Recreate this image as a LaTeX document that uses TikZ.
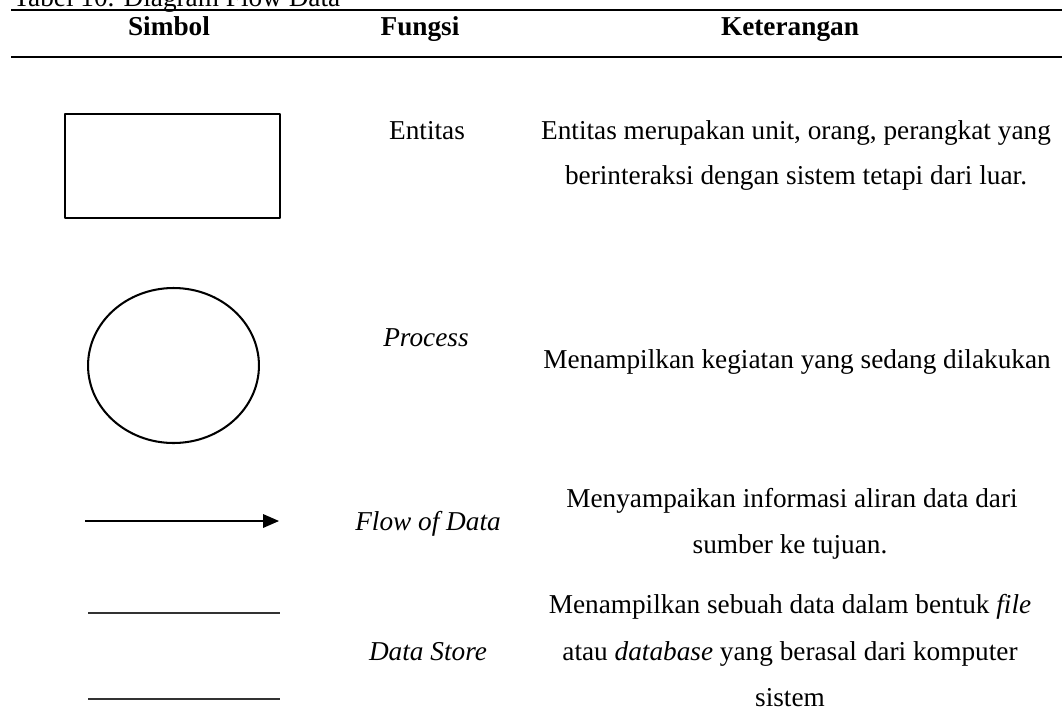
\documentclass[tikz,border=0pt]{standalone}
\usepackage{fontspec}
\setmainfont{Liberation Serif}
\usetikzlibrary{arrows.meta,shapes.geometric}
\tikzset{
	cell/.style={anchor=base, inner sep=0pt, font=\fontsize{12pt}{14pt}\selectfont},
	headcell/.style={cell, font=\fontsize{12pt}{14pt}\selectfont\bfseries},
	tablerule/.style={line width=0.9pt},
	symbolline/.style={line width=0.9pt},
	storeline/.style={line width=0.65pt, black!80}
}
\begin{document}
\begin{tikzpicture}[x=0.44pt, y=-0.44pt, >={Triangle[length=7pt,width=6pt]}, line join = round]
	\useasboundingbox (0,0) rectangle (1062,727);
	\coordinate (TL) at (11,10);
	\coordinate (TR) at (1062,10);
	\coordinate (ML) at (11,57);
	\coordinate (MR) at (1062,57);
	\coordinate (flowS) at (85,521);
	\coordinate (flowE) at (279,521);
	\coordinate (storeA) at (88,613);
	\coordinate (storeB) at (280,613);
	\coordinate (storeC) at (88,699);
	\coordinate (storeD) at (280,699);
	% title and header
	\node[cell, anchor=base west] (title) at (13,6) {Tabel 10. Diagram Flow Data};
	\node[headcell] (hSimbol) at (169,35) {Simbol};
	\node[headcell] (hFungsi) at (420,35) {Fungsi};
	\node[headcell] (hKet) at (790,35) {Keterangan};
	\draw[tablerule] (TL) -- (TR);
	\draw[tablerule] (ML) -- (MR);
	% symbols
	\node[draw, symbolline, inner sep=0pt, minimum width=94.6pt, minimum height=45.8pt] (entity) at (172.5,166) {};
	\node[draw, symbolline, ellipse, inner sep=0pt, minimum width=75.2pt, minimum height=68.2pt] (process) at (173.5,365.5) {};
	\draw[->, line width=0.5pt] (flowS) -- (flowE);
	\draw[storeline] (storeA) -- (storeB);
	\draw[storeline] (storeC) -- (storeD);
	% fungsi
	\node[cell] (fEntitas) at (427,139) {Entitas};
	\node[cell] (fProcess) at (426,346) {\textit{Process}};
	\node[cell] (fFlow) at (428,530) {\textit{Flow of Data}};
	\node[cell] (fStore) at (428,660) {\textit{Data Store}};
	% keterangan
	\node[cell] (kEntA) at (796,139) {Entitas merupakan unit, orang, perangkat yang};
	\node[cell] (kEntB) at (796,184) {berinteraksi dengan sistem tetapi dari luar.};
	\node[cell] (kProc) at (797,368) {Menampilkan kegiatan yang sedang dilakukan};
	\node[cell] (kFlowA) at (792,507) {Menyampaikan informasi aliran data dari};
	\node[cell] (kFlowB) at (790,553) {sumber ke tujuan.};
	\node[cell] (kStoreA) at (790,613) {Menampilkan sebuah data dalam bentuk \textit{file}};
	\node[cell] (kStoreB) at (790,660) {atau \textit{database} yang berasal dari komputer};
	\node[cell] (kStoreC) at (790,706) {sistem};
\end{tikzpicture}
\end{document}
